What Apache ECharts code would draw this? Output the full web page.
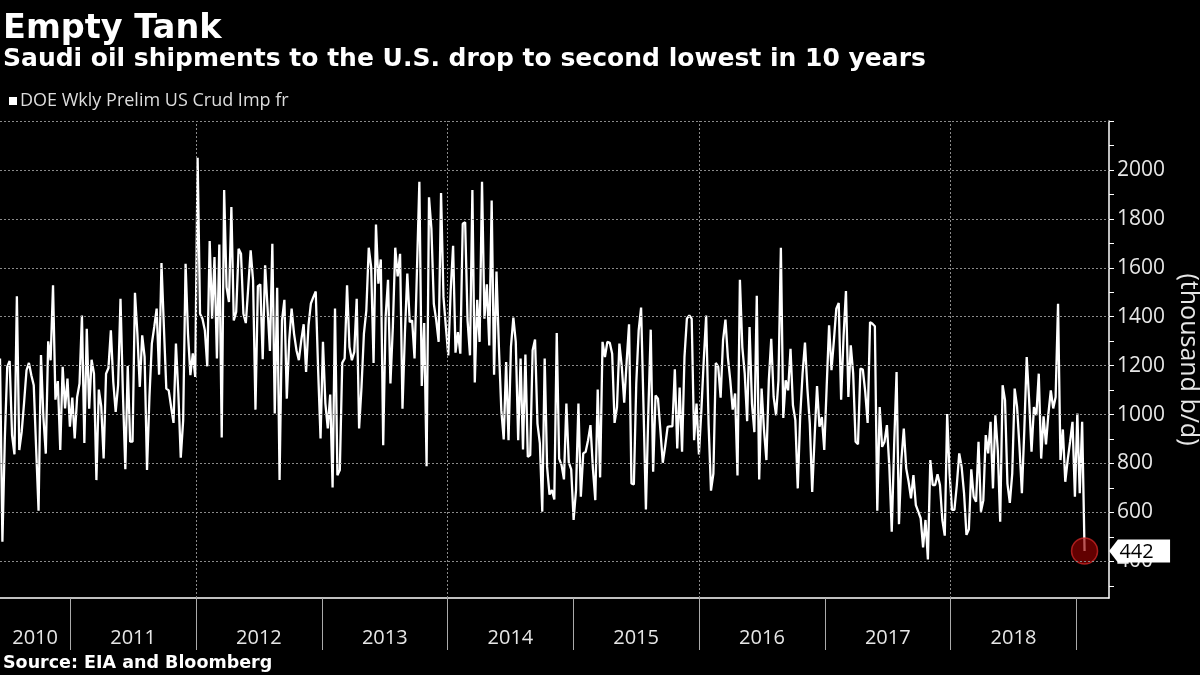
<!DOCTYPE html>
<html>
<head>
<meta charset="utf-8">
<script src="https://cdn.jsdelivr.net/npm/echarts@6/dist/echarts.min.js"></script>
<style>
  html, body { margin: 0; padding: 0; background: #000; }
  #chart { width: 1200px; height: 675px; }
</style>
</head>
<body>
<div id="chart"></div>
<script>
// ---------------- data ----------------
const TITLE = 'Empty Tank';
const SUBTITLE = 'Saudi oil shipments to the U.S. drop to second lowest in 10 years';
const SOURCE = 'Source: EIA and Bloomberg';
const SERIES_NAME = 'DOE Wkly Prelim US Crud Imp fr';
const Y_NAME = '(thousand b/d)';

// weekly observations, first week ending 2010-06-11
const firstWeek = '2010-06-11';
const axisEnd = '2019-04-06';

const weeklyImports = [
  1229, 480, 900, 1195, 1219, 916, 837, 1484, 855, 929,
  1050, 1181, 1211, 1161, 1120, 860, 607, 1243, 990, 840,
  1299, 1222, 1528, 1061, 1137, 855, 1195, 1025, 1147, 950,
  1069, 902, 1071, 1127, 1405, 884, 1351, 1024, 1224, 1167,
  732, 1102, 1034, 820, 1167, 1190, 1344, 1133, 1011, 1120,
  1473, 1085, 776, 1198, 889, 889, 1498, 1331, 1113, 1324,
  1236, 773, 1071, 1290, 1358, 1433, 1163, 1619, 1358, 1106,
  1099, 1031, 966, 1290, 1086, 824, 976, 1616, 1331, 1161,
  1250, 1154, 2050,
  1412, 1392, 1344, 1197, 1709, 1392, 1644, 1229, 1695, 906,
  1918, 1521, 1460, 1848, 1385, 1419, 1678, 1657, 1412, 1374,
  1520, 1671, 1548, 1020, 1525, 1532, 1226, 1610, 1439, 1260,
  1698, 1004, 1518, 732, 1385, 1469, 1065, 1303, 1433, 1331,
  1263, 1222, 1303, 1369, 1174, 1365, 1454, 1480, 1503, 1181,
  902, 1297, 1046, 943, 1082, 702, 1433, 752, 773, 1211,
  1229, 1528, 1276, 1222, 1256, 1473, 943, 1113, 1331, 1426,
  1682, 1603, 1211, 1777, 1535, 1634, 875, 1399, 1551,
  1127, 1358, 1682, 1565, 1657, 1024, 1331, 1576, 1378, 1385,
  1229, 1589, 1952, 1117, 1374, 789, 1888, 1759, 1453, 1385,
  1297, 1906, 1481, 1358, 1242, 1508, 1690, 1253, 1337, 1249,
  1780, 1786, 1385, 1242, 1918, 1131, 1469, 1297, 1952, 1392,
  1532, 1282, 1875, 1163, 1585, 1276, 1018, 898, 1215, 895,
  1276, 1396, 1297, 895, 1229, 857, 1245, 827, 834, 1263,
  1307, 963, 882, 603, 1229, 786, 673, 691, 653, 1333,
  820, 793, 735, 1045, 804, 776, 569, 691, 1045,
  664, 841, 848, 895, 957, 780, 650, 1102, 743, 1297,
  1235, 1297, 1293, 1249, 966, 1031, 1290, 1195, 1048, 1215,
  1369, 718, 714, 1127, 1344, 1437, 1031, 612, 1007, 1347,
  766, 1078, 1065, 936, 803, 871, 950, 952, 952, 1185,
  861, 1110, 848, 1235, 1392, 1405, 1392, 895, 1045, 837,
  1015, 1222, 1405, 963, 689, 759, 1211, 1195, 1069, 1303,
  1388, 1235, 1140, 1020, 1086, 751, 1551, 1276, 1167, 973,
  1358, 1045, 928, 1486, 735, 1106, 936, 814, 1140,
  1310, 1072, 997, 1140, 1682, 986, 1140, 1099, 1269, 1038,
  977, 698, 990, 1167, 1294, 1106, 963, 684, 909, 1116,
  950, 990, 855, 1113, 1365, 1181, 1303, 1433, 1456, 1061,
  1317, 1505, 1072, 1283, 1167, 889, 879, 1188, 1184, 1093,
  966, 1378, 1371, 1361, 607, 1031, 868, 889, 957, 786,
  521, 875, 1174, 552, 814, 943, 780, 725, 657, 752,
  630, 603, 576, 457, 569, 408, 814, 712, 712, 756,
  712, 569, 505, 1002, 759, 610, 610, 712, 841,
  786, 678, 508, 531, 776, 664, 644, 889, 603, 650,
  916, 841, 970, 698, 997, 854, 562, 1120, 1059, 718,
  639, 759, 1106, 1031, 868, 678, 936, 1235, 1059, 848,
  1031, 997, 1167, 820, 993, 878, 1004, 1099, 1025, 1072,
  1453, 814, 939, 725, 814, 889, 970, 664, 1004, 678,
  970, 442
];

// year boundaries (Jan 1) and the year labels shown between them
const yearStarts = ['2011-01-01', '2012-01-01', '2013-01-01', '2014-01-01', '2015-01-01',
                    '2016-01-01', '2017-01-01', '2018-01-01', '2019-01-01'];
const yearLabels = ['2010', '2011', '2012', '2013', '2014', '2015', '2016', '2017', '2018'];
const verticalGridYears = ['2012-01-01', '2014-01-01', '2016-01-01', '2018-01-01'];

// y axis
const yMin = 250, yMax = 2200;
const yLabelValues = [400, 600, 800, 1000, 1200, 1400, 1600, 1800, 2000];
const yTickValues = [300, 400, 500, 600, 700, 800, 900, 1000, 1100, 1200, 1300, 1400,
                     1500, 1600, 1700, 1800, 1900, 2000, 2100, 2200];
const yGridValues = [400, 600, 800, 1000, 1200, 1400, 1600, 1800, 2000, 2200];

// ---------------- build ----------------
const ts = s => Date.parse(s + 'T00:00:00Z');
const DAY = 86400000;
const start = ts(firstWeek);
const seriesData = weeklyImports.map((v, i) => [start + i * 7 * DAY, v]);
const last = seriesData[seriesData.length - 1];

const boundaries = [start].concat(yearStarts.map(ts));
const labelPos = [];
const labelText = {};
for (let k = 0; k < yearLabels.length; k++) {
  const mid = (boundaries[k] + boundaries[k + 1]) / 2;
  labelPos.push(mid);
  labelText[mid] = yearLabels[k];
}

const gridLineStyle = { color: '#8a8a8a', type: [2, 2], width: 1 };
const markLineData = yGridValues.map(v => ({ yAxis: v }))
  .concat(verticalGridYears.map(d => ({ xAxis: ts(d) })));

const FONT = 'Open Sans';
const chart = echarts.init(document.getElementById('chart'), null, { renderer: 'canvas' });
chart.setOption({
  backgroundColor: '#000',
  animation: false,
  title: [
    { text: TITLE, left: 3, top: 12, padding: 0,
      textStyle: { color: '#fff', fontSize: 33.5, fontWeight: 'bold', fontFamily: 'DejaVu Sans' } },
    { text: SUBTITLE, left: 3, top: 47, padding: 0,
      textStyle: { color: '#fff', fontSize: 25, fontWeight: 'bold', fontFamily: 'DejaVu Sans' } },
    { text: SOURCE, left: 3, top: 654, padding: 0,
      textStyle: { color: '#fff', fontSize: 17.5, fontWeight: 'bold', fontFamily: 'DejaVu Sans' } }
  ],
  legend: {
    left: 9, top: 92, padding: 0, icon: 'rect', itemWidth: 8, itemHeight: 8, itemGap: 10,
    data: [SERIES_NAME],
    textStyle: { color: '#ddd', fontSize: 18, fontFamily: FONT, padding: [0, 0, 0, -2] }
  },
  grid: { left: 0, right: 91, top: 121, bottom: 77, containLabel: false, outerBoundsMode: 'none' },
  xAxis: {
    type: 'value',
    min: start, max: ts(axisEnd),
    axisLine: { show: true, lineStyle: { color: '#fff', width: 1.5 } },
    axisTick: { show: true, customValues: yearStarts.map(ts), length: 52,
      lineStyle: { color: '#aaa', width: 1 } },
    axisLabel: { show: true, customValues: labelPos, margin: 30,
      formatter: v => labelText[v] || '',
      color: '#e6e6e6', fontSize: 20, fontFamily: FONT },
    splitLine: { show: false }
  },
  yAxis: {
    type: 'value', position: 'right',
    min: yMin, max: yMax,
    name: Y_NAME, nameLocation: 'middle', nameRotate: -90, nameGap: 64,
    nameTextStyle: { color: '#e6e6e6', fontSize: 25, fontFamily: FONT },
    axisLine: { show: true, lineStyle: { color: '#fff', width: 1.5 } },
    axisTick: { show: true, customValues: yTickValues, length: 5, lineStyle: { color: '#fff' } },
    axisLabel: { show: true, customValues: yLabelValues, margin: 8,
      formatter: v => String(v),
      color: '#e6e6e6', fontSize: 21, fontFamily: FONT },
    splitLine: { show: false }
  },
  series: [
    {
      name: SERIES_NAME,
      type: 'line',
      data: seriesData,
      showSymbol: false,
      symbol: 'none',
      sampling: null,
      color: '#fff',
      lineStyle: { color: '#fff', width: 2.3 },
      z: 3,
      markLine: {
        silent: true, symbol: ['none', 'none'], label: { show: false },
        lineStyle: gridLineStyle, animation: false,
        data: markLineData
      },
      markPoint: {
        silent: true,
        symbol: 'path://M0,11 L9,0 L62,0 L62,22 L9,22 Z',
        symbolSize: [61, 23],
        symbolOffset: [55, 0],
        itemStyle: { color: '#fff' },
        label: { show: true, position: 'inside', offset: [-3, 1], color: '#000',
          fontSize: 20, fontFamily: FONT, formatter: p => String(p.value) },
        data: [{ coord: last, value: last[1] }]
      }
    },
    {
      name: 'last',
      type: 'scatter',
      data: [last],
      symbolSize: 26,
      z: 4,
      itemStyle: { color: 'rgba(150,0,0,0.82)', borderColor: 'rgba(215,40,40,0.9)', borderWidth: 1.5 },
      silent: true
    }
  ]
});
</script>
</body>
</html>
